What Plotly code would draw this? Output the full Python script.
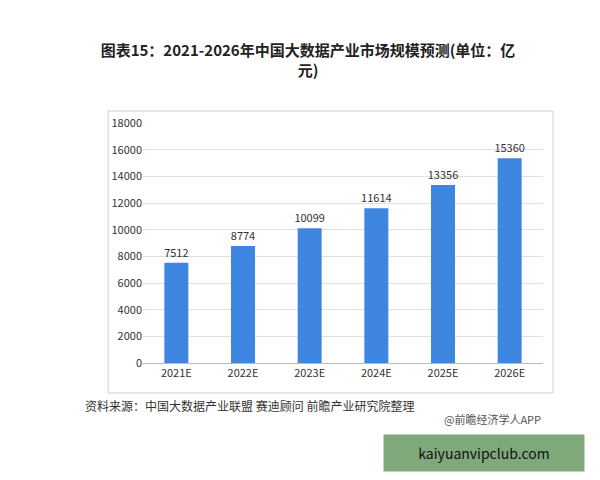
import plotly.graph_objects as go

years = ["2021E", "2022E", "2023E", "2024E", "2025E", "2026E"]
values = [7512, 8774, 10099, 11614, 13356, 15360]
y_ticks = list(range(0, 18001, 2000))

FONT = "Noto Sans CJK SC"

fig = go.Figure(go.Bar(
    x=years, y=values,
    marker=dict(color="#3f86e0", line=dict(width=0)),
    width=0.36,
    text=[str(v) for v in values], textposition="outside",
    textfont=dict(size=11, color="#333", family=FONT),
    textangle=0, constraintext="none",
    cliponaxis=False,
))

fig.update_layout(
    width=600, height=480,
    paper_bgcolor="white", plot_bgcolor="white",
    margin=dict(l=135, r=65, t=115, b=125),
    font=dict(family=FONT, color="#333"),
    showlegend=False,
    title=dict(
        text="<b>图表15：2021-2026年中国大数据产业市场规模预测(单位：亿<br>元)</b>",
        x=0.5, xanchor="center", y=0.9, yanchor="middle",
        font=dict(size=15, color="#222", family=FONT),
    ),
    xaxis=dict(tickfont=dict(size=11), showline=True, linecolor="#bbb",
               ticks="", fixedrange=True),
    yaxis=dict(range=[0, 18000], tickvals=y_ticks,
               ticktext=[str(t) for t in y_ticks], tickfont=dict(size=11),
               showgrid=True, gridcolor="#e0e0e0", zeroline=False, ticks=""),
    shapes=[dict(type="rect", xref="paper", yref="paper",
                 x0=-0.087, x1=1.025, y0=-0.125, y1=1.05,
                 line=dict(color="#d0d0d0", width=1))],
    annotations=[
        dict(text="资料来源：中国大数据产业联盟 赛迪顾问 前瞻产业研究院整理",
             xref="paper", yref="paper", x=-0.15, y=-0.22, xanchor="left",
             showarrow=False, font=dict(size=12, color="#333")),
        dict(text="@前瞻经济学人APP", xref="paper", yref="paper",
             x=1.0, y=-0.275, xanchor="right", showarrow=False,
             font=dict(size=11, color="#555")),
        dict(text="kaiyuanvipclub.com", xref="paper", yref="paper",
             x=0.6, y=-0.455, xanchor="left", showarrow=False,
             bgcolor="#7fa97a", borderpad=8, width=184,
             font=dict(size=14, color="#111")),
    ],
)

fig.write_html("out.html")
